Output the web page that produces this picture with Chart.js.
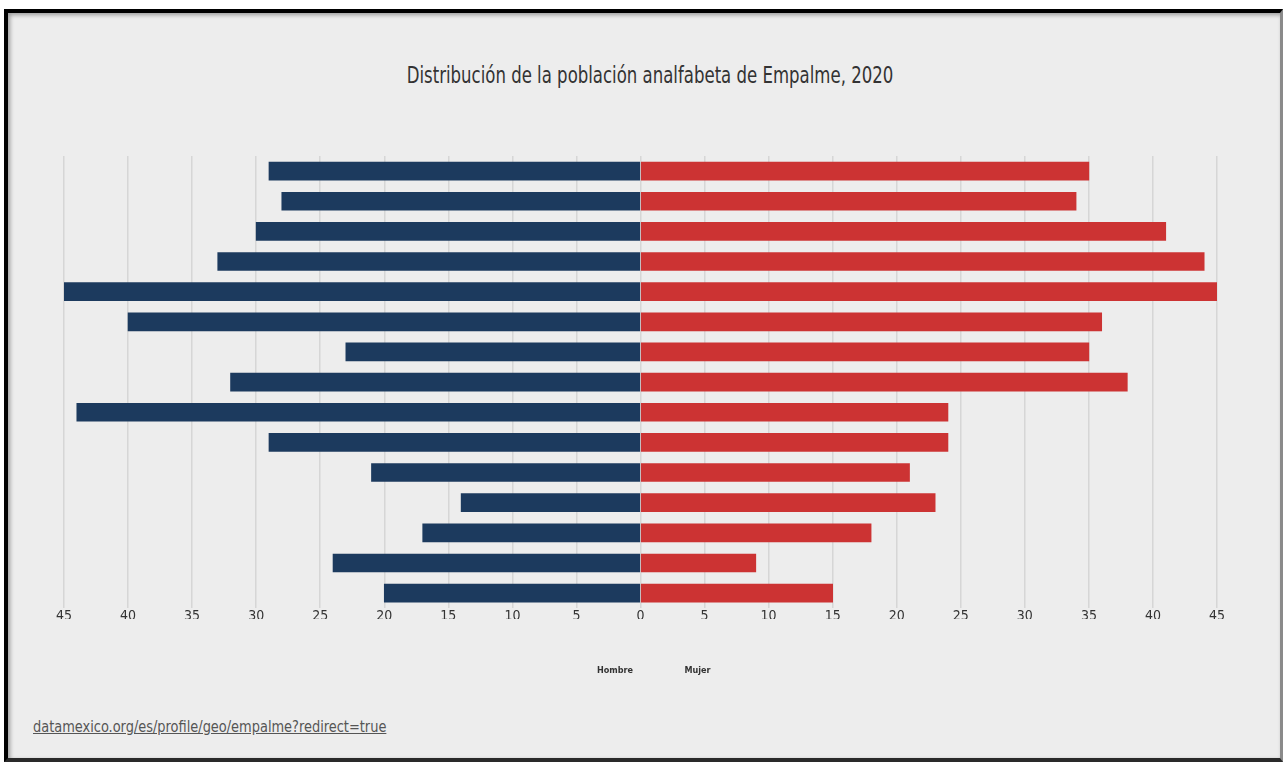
<!DOCTYPE html>
<html>
<head>
<meta charset="utf-8">
<script src="https://cdn.jsdelivr.net/npm/chart.js@4.4.1/dist/chart.umd.min.js"></script>
<style>
  html, body { margin:0; padding:0; background:#fff; width:1283px; height:762px; overflow:hidden; }
  #frame { position:absolute; left:4px; top:9px; width:1272px; height:745px; background:#ededed;
    border-top:4px solid #000; border-left:4px solid #000; border-bottom:4px solid #2a2a2a; border-right:3px solid #8a8a8a;
    box-shadow: inset 2px 2px 4px rgba(0,0,0,0.35); }
  #title { position:absolute; left:0; width:1300px; top:62px; text-align:center; font-family:"DejaVu Sans Condensed","DejaVu Sans",sans-serif;
    font-size:23px; color:#333; transform:scaleX(0.8); transform-origin:650px 0; white-space:nowrap; }
  #src { position:absolute; left:33px; top:717px; font-family:"DejaVu Sans Condensed","DejaVu Sans",sans-serif;
    font-size:16px; color:#555; text-decoration:underline; transform:scaleX(0.9); transform-origin:0 0; white-space:nowrap; }
  canvas { position:absolute; left:0; top:0; }
</style>
</head>
<body>
<div id="frame"></div>
<div id="title">Distribución de la población analfabeta de Empalme, 2020</div>
<div id="src">datamexico.org/es/profile/geo/empalme?redirect=true</div>
<canvas id="c" width="1283" height="762"></canvas>
<script>
const categories = ["85 años o más","80 a 84 años","75 a 79 años","70 a 74 años","65 a 69 años","60 a 64 años","55 a 59 años","50 a 54 años","45 a 49 años","40 a 44 años","35 a 39 años","30 a 34 años","25 a 29 años","20 a 24 años","15 a 19 años"];
const hombre = [29, 28, 30, 33, 45, 40, 23, 32, 44, 29, 21, 14, 17, 24, 20];
const mujer  = [35, 34, 41, 44, 45, 36, 35, 38, 24, 24, 21, 23, 18, 9, 15];
const tickValues = [-45,-40,-35,-30,-25,-20,-15,-10,-5,0,5,10,15,20,25,30,35,40,45];

const FONT = '"DejaVu Sans Condensed","DejaVu Sans",sans-serif';

const legendShift = {
  id: 'legendShift',
  afterLayout(chart) {
    if (chart.legend) { chart.legend.left += 11; chart.legend.right += 11; }
  }
};

new Chart(document.getElementById('c'), {
  type: 'bar',
  data: {
    labels: categories,
    datasets: [
      { label: 'Hombre', data: hombre.map(v => -v), backgroundColor: '#1c3a5e', barThickness: 18 },
      { label: 'Mujer', data: mujer, backgroundColor: '#cc3333', barThickness: 18 }
    ]
  },
  plugins: [legendShift],
  options: {
    indexAxis: 'y',
    responsive: false,
    animation: false,
    layout: { padding: { left: 64, right: 66, top: 156, bottom: 77 } },
    scales: {
      x: {
        stacked: true, min: -45, max: 45,
        afterBuildTicks: (axis) => { axis.ticks = tickValues.map(v => ({ value: v })); },
        afterFit: (scale) => { scale.height -= 6; },
        grid: { color: '#d6d6d6', lineWidth: 1.5, drawTicks: false },
        border: { display: false },
        ticks: { padding: 0, color: '#333', font: { family: FONT, size: 14 }, callback: (v) => Math.abs(v) }
      },
      y: { stacked: true, display: false }
    },
    plugins: {
      legend: {
        position: 'bottom',
        labels: { boxWidth: 0, boxHeight: 0, padding: 47, color: '#333', font: { family: FONT, size: 9, weight: 'bold' } }
      },
      tooltip: { enabled: false }
    }
  }
});
</script>
</body>
</html>
